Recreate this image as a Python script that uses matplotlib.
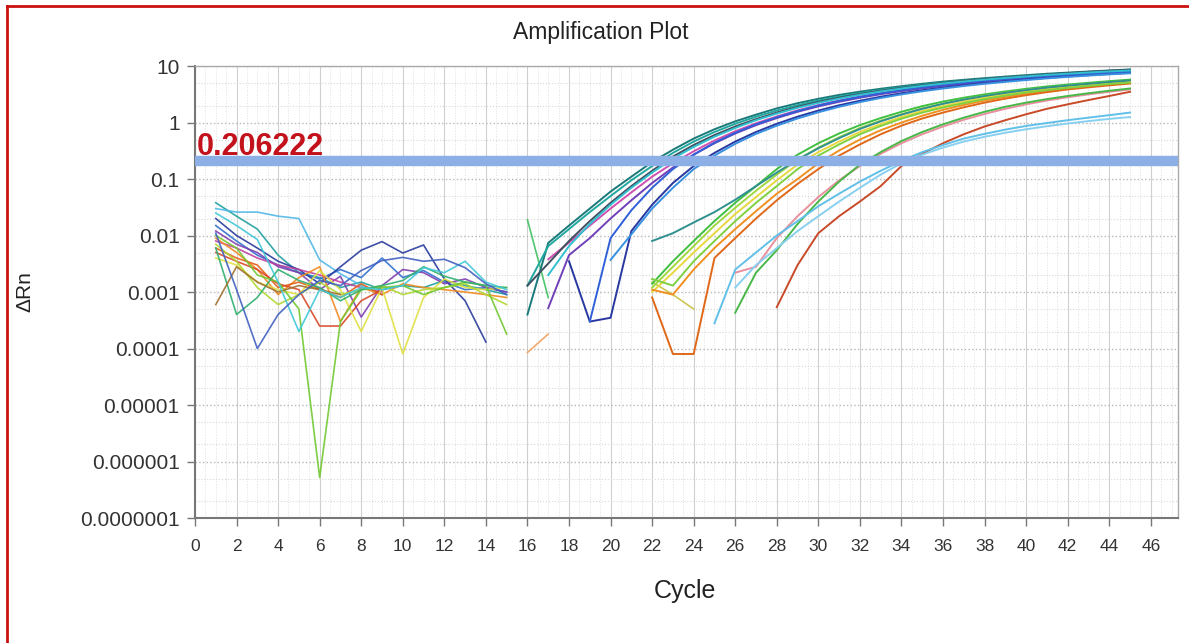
import numpy as np
import matplotlib
matplotlib.use('Agg')
import matplotlib.pyplot as plt
import matplotlib.ticker as mtick
from matplotlib.lines import Line2D

plt.rcParams['font.family'] = ['Liberation Sans', 'DejaVu Sans']

threshold = 0.206222
y_ticks = [1e1, 1e0, 1e-1, 1e-2, 1e-3, 1e-4, 1e-5, 1e-6, 1e-7]
y_tick_labels = ['10', '1', '0.1', '0.01', '0.001', '0.0001', '0.00001', '0.000001', '0.0000001']
x_ticks = list(range(0, 47, 2))

# baseline noise, cycles 1..n
base_values = [
    [0.038, 0.022, 0.013, 0.0045, 0.0022, 0.0018, 0.0012, 0.0015, 0.0011, 0.0013, 0.0012, 0.0016, 0.0013, 0.0011, 0.0009],
    [0.03, 0.026, 0.026, 0.022, 0.02, 0.0037, 0.0021, 0.0013, 0.0009],
    [0.015, 0.008, 0.0045, 0.003, 0.0022, 0.0017, 0.0025, 0.0018, 0.004, 0.0018, 0.0024, 0.0015, 0.0011, 0.0012, 0.001],
    [0.02, 0.01, 0.006, 0.0035, 0.0025, 0.0014, 0.0028, 0.0055, 0.0078, 0.0049, 0.0068, 0.0017, 0.0007, 0.00013],
    [0.012, 0.007, 0.005, 0.0028, 0.0022, 0.0011, 0.0019, 0.00036, 0.0013, 0.0025, 0.0022, 0.0014, 0.0017, 0.0012, 0.001],
    [0.008, 0.006, 0.004, 0.003, 0.0025, 0.002, 0.0015, 0.0012, 0.001],
    [0.009, 0.005, 0.0025, 0.0009, 0.0018, 0.0028, 0.0003, 0.0012, 0.0009, 0.0014, 0.0012, 0.0011, 0.001, 0.0009, 0.0008],
    [0.006, 0.004, 0.003, 0.0012, 0.0015, 0.0011, 0.0008, 0.0014, 0.0009],
    [0.005, 0.0035, 0.0025, 0.0014, 0.0011, 0.00025, 0.00025, 0.0007, 0.0011],
    [0.004, 0.003, 0.0015, 0.0011, 0.0009, 0.0024, 0.0011, 0.0002, 0.0012, 0.00008, 0.0008, 0.0017, 0.0012, 0.0011, 0.0012],
    [0.007, 0.0035, 0.0012, 0.0006, 0.0009, 0.0015, 0.0009, 0.0011, 0.0013, 0.0009, 0.0011, 0.0012, 0.0014, 0.0009, 0.0006],
    [0.01, 0.006, 0.002, 0.0015, 0.0005, 5.2e-7, 0.0003, 0.0011, 0.0012, 0.0013, 0.0009, 0.0012, 0.0015, 0.0013, 0.00018],
    [0.006, 0.0004, 0.0008, 0.0025, 0.0016, 0.0012, 0.0007, 0.0011, 0.0013, 0.0016, 0.0028, 0.0019, 0.0015, 0.0013, 0.0012],
    [0.0006, 0.0028, 0.0015, 0.001, 0.0013, 0.0011, 0.0009],
    [0.025, 0.015, 0.0085, 0.0015, 0.0002, 0.0011, 0.0008, 0.0012, 0.0011, 0.0013, 0.0027, 0.0022, 0.0035, 0.0015, 0.0011],
    [0.011, 0.0011, 0.0001, 0.0004, 0.0009, 0.0016, 0.0013, 0.0024, 0.0036, 0.0041, 0.0035, 0.0038, 0.0027, 0.0014, 0.0009],
]
base_colors = ['#20a0a0', '#50b8e8', '#3070d0', '#283c9c', '#8040b0', '#c040a0', '#f08a20', '#e06018',
               '#d84828', '#e0e040', '#b0d830', '#70c830', '#30b070', '#a07030', '#40c8d8', '#4060c0']

# short pieces around cycles 16-24
short_start = [16, 16, 22]
short_values = [
    [0.019, 0.0008],
    [8.5e-5, 1.8e-4],
    [0.0015, 0.0009, 0.0005],
]
short_colors = ['#40c060', '#f0a060', '#c8c040']

# amplification curves: first cycle + values up to cycle 45
amp_start = [16, 16, 17, 17, 18, 19, 20, 16, 17,
             22, 22, 22, 22, 22, 22, 22, 26, 26,
             28, 25, 26]
amp_values = [
    [0.0004, 0.0074, 0.015, 0.03, 0.06, 0.11, 0.2, 0.33, 0.52, 0.76, 1.05, 1.38, 1.78, 2.2, 2.63, 3.08, 3.52, 3.96, 4.4, 4.85, 5.3, 5.7, 6.1, 6.5, 6.9, 7.3, 7.65, 8.0, 8.35, 8.7],
    [0.0013, 0.0065, 0.013, 0.026, 0.05, 0.095, 0.17, 0.29, 0.46, 0.68, 0.95, 1.27, 1.63, 2.03, 2.45, 2.88, 3.32, 3.76, 4.2, 4.64, 5.08, 5.5, 5.9, 6.3, 6.7, 7.05, 7.4, 7.75, 8.1, 8.45],
    [0.0038, 0.0075, 0.015, 0.03, 0.058, 0.11, 0.19, 0.31, 0.48, 0.7, 0.97, 1.28, 1.64, 2.03, 2.45, 2.88, 3.3, 3.72, 4.15, 4.57, 4.98, 5.38, 5.76, 6.13, 6.5, 6.85, 7.2, 7.5, 7.8],
    [0.00052, 0.0045, 0.009, 0.02, 0.042, 0.085, 0.16, 0.27, 0.43, 0.64, 0.9, 1.2, 1.55, 1.93, 2.33, 2.75, 3.17, 3.6, 4.02, 4.45, 4.86, 5.27, 5.66, 6.05, 6.42, 6.78, 7.12, 7.45, 7.75],
    [0.0035, 0.0003, 0.00035, 0.012, 0.035, 0.085, 0.17, 0.29, 0.46, 0.68, 0.95, 1.27, 1.63, 2.02, 2.43, 2.86, 3.3, 3.73, 4.16, 4.58, 5.0, 5.4, 5.8, 6.18, 6.55, 6.9, 7.25, 7.58],
    [0.0003, 0.009, 0.028, 0.07, 0.15, 0.27, 0.44, 0.66, 0.93, 1.24, 1.6, 2.0, 2.42, 2.85, 3.3, 3.75, 4.2, 4.64, 5.08, 5.5, 5.9, 6.3, 6.7, 7.05, 7.4, 7.75, 8.1],
    [0.0037, 0.0105, 0.03, 0.07, 0.15, 0.26, 0.42, 0.63, 0.88, 1.18, 1.52, 1.9, 2.3, 2.72, 3.15, 3.58, 4.0, 4.43, 4.85, 5.25, 5.65, 6.05, 6.42, 6.78, 7.12, 7.45],
    [0.0013, 0.0032, 0.008, 0.018, 0.038, 0.075, 0.14, 0.25, 0.4, 0.6, 0.85, 1.15, 1.5, 1.9, 2.32, 2.76, 3.2, 3.65, 4.1, 4.55, 5.0, 5.45, 5.88, 6.3, 6.7, 7.1, 7.5, 7.88, 8.25, 8.6],
    [0.002, 0.0065, 0.016, 0.035, 0.07, 0.13, 0.23, 0.37, 0.56, 0.8, 1.1, 1.44, 1.82, 2.23, 2.66, 3.1, 3.55, 4.0, 4.45, 4.9, 5.33, 5.75, 6.15, 6.55, 6.95, 7.32, 7.68, 8.02, 8.35],
    [0.0014, 0.0035, 0.008, 0.018, 0.038, 0.075, 0.15, 0.27, 0.43, 0.64, 0.9, 1.2, 1.55, 1.95, 2.35, 2.75, 3.15, 3.55, 3.95, 4.35, 4.7, 5.05, 5.4, 5.75],
    [0.0012, 0.0028, 0.0065, 0.015, 0.031, 0.062, 0.12, 0.22, 0.36, 0.55, 0.8, 1.08, 1.4, 1.78, 2.15, 2.55, 2.95, 3.35, 3.75, 4.1, 4.45, 4.8, 5.15, 5.5],
    [0.001, 0.0022, 0.005, 0.011, 0.024, 0.048, 0.095, 0.18, 0.3, 0.46, 0.68, 0.94, 1.25, 1.6, 1.95, 2.35, 2.75, 3.15, 3.55, 3.9, 4.25, 4.6, 4.95, 5.3],
    [0.0011, 0.0009, 0.0025, 0.006, 0.013, 0.027, 0.055, 0.1, 0.19, 0.32, 0.5, 0.73, 1.0, 1.32, 1.68, 2.05, 2.45, 2.85, 3.25, 3.65, 4.0, 4.35, 4.7, 5.05],
    [0.0008, 8e-5, 8e-5, 0.004, 0.009, 0.02, 0.042, 0.082, 0.15, 0.26, 0.41, 0.62, 0.88, 1.18, 1.5, 1.86, 2.25, 2.65, 3.05, 3.45, 3.85, 4.2, 4.55, 4.9],
    [0.008, 0.011, 0.017, 0.026, 0.043, 0.075, 0.13, 0.22, 0.35, 0.53, 0.77, 1.05, 1.38, 1.75, 2.15, 2.55, 2.95, 3.35, 3.75, 4.15, 4.5, 4.85, 5.2, 5.55],
    [0.0017, 0.0013, 0.0035, 0.008, 0.018, 0.038, 0.075, 0.15, 0.26, 0.41, 0.62, 0.87, 1.17, 1.5, 1.85, 2.2, 2.6, 3.0, 3.4, 3.75, 4.1, 4.45, 4.8, 5.1],
    [0.0022, 0.0028, 0.009, 0.022, 0.048, 0.095, 0.17, 0.28, 0.43, 0.62, 0.85, 1.12, 1.42, 1.75, 2.1, 2.45, 2.8, 3.15, 3.5, 3.85],
    [0.00043, 0.0022, 0.0055, 0.016, 0.04, 0.09, 0.18, 0.3, 0.47, 0.68, 0.93, 1.22, 1.55, 1.9, 2.25, 2.6, 2.95, 3.3, 3.65, 4.0],
    [0.00054, 0.003, 0.011, 0.022, 0.04, 0.075, 0.17, 0.28, 0.43, 0.62, 0.85, 1.1, 1.4, 1.75, 2.1, 2.5, 2.95, 3.5],
    [0.00028, 0.0025, 0.005, 0.01, 0.018, 0.033, 0.055, 0.09, 0.14, 0.21, 0.3, 0.4, 0.52, 0.63, 0.75, 0.87, 0.98, 1.1, 1.22, 1.35, 1.5],
    [0.0012, 0.003, 0.006, 0.012, 0.022, 0.04, 0.07, 0.12, 0.19, 0.27, 0.36, 0.46, 0.56, 0.66, 0.76, 0.86, 0.96, 1.06, 1.16, 1.25],
]
amp_colors = ['#1a7a7a', '#20a8a0', '#d050b0', '#7040b8', '#2838a0', '#3060d8', '#3890e0', '#405060', '#30c0d0',
              '#40c040', '#a0d840', '#e8d840', '#f09020', '#e06818', '#309090', '#80d040', '#e890a0', '#48b848',
              '#c84a28', '#60c0e8', '#88d0f0']

fig = plt.figure(figsize=(11.89, 6.43), dpi=100)
ax = fig.add_axes([0.164, 0.1944, 0.8266, 0.7029])

for vals, c in zip(base_values, base_colors):
    ax.plot(np.arange(1, len(vals) + 1), vals, color=c, lw=1.2, alpha=0.9, zorder=2)
for s, vals, c in zip(short_start, short_values, short_colors):
    ax.plot(np.arange(s, s + len(vals)), vals, color=c, lw=1.2, alpha=0.9, zorder=2)
for s, vals, c in zip(amp_start, amp_values, amp_colors):
    ax.plot(np.arange(s, s + len(vals)), vals, color=c, lw=1.4, zorder=2)

ax.axhline(threshold, color='#8cb0e6', lw=7.5, zorder=3, solid_capstyle='butt')
ax.text(0.08, 0.262, '{:g}'.format(threshold), color='#c3121c', fontsize=22, fontweight='bold',
        va='baseline', ha='left', zorder=4)

ax.set_yscale('log')
ax.set_ylim(1e-7, 10)
ax.set_xlim(0, 47.3)
ax.set_yticks(y_ticks)
ax.set_yticklabels(y_tick_labels)
ax.yaxis.set_minor_locator(mtick.LogLocator(base=10, subs=(2.0, 5.0), numticks=20))
ax.yaxis.set_minor_formatter(mtick.NullFormatter())
ax.set_xticks(x_ticks)
ax.xaxis.set_minor_locator(mtick.MultipleLocator(0.5))

ax.tick_params(axis='both', which='major', direction='out', length=6, width=1, color='#777777',
               labelcolor='#333333')
ax.tick_params(axis='y', which='major', labelsize=15, pad=5)
ax.tick_params(axis='x', which='major', labelsize=12.5, pad=9)
ax.tick_params(axis='both', which='minor', length=0)
ax.grid(axis='x', which='major', color='#d0d0d0', lw=0.8, ls='-')
ax.grid(axis='x', which='minor', color='#e0e0e0', lw=0.7, ls=':')
ax.grid(axis='y', which='major', color='#b8b8b8', lw=1.0, ls=':')
ax.grid(axis='y', which='minor', color='#d8d8d8', lw=0.8, ls=':')
ax.set_axisbelow(True)

for side in ['left', 'bottom']:
    ax.spines[side].set_color('#777777')
    ax.spines[side].set_linewidth(1.5)
for side in ['top', 'right']:
    ax.spines[side].set_color('#aaaaaa')
    ax.spines[side].set_linewidth(1.0)

ax.set_xlabel('Cycle', fontsize=18, color='#222222')
ax.xaxis.set_label_coords(0.498, -0.135)
ax.set_ylabel('ΔRn', fontsize=15, color='#222222')
ax.yaxis.set_label_coords(-0.163, 0.5)
fig.text(0.505, 0.95, 'Amplification Plot', fontsize=16.5, color='#222222', ha='center', va='center')

# red frame round the picture (left and top edges visible)
fig.add_artist(Line2D([7 / 1189, 7 / 1189], [0, 1 - 6 / 643], color='#cc1111', lw=2, transform=fig.transFigure))
fig.add_artist(Line2D([7 / 1189, 1], [1 - 6 / 643, 1 - 6 / 643], color='#cc1111', lw=2, transform=fig.transFigure))

fig.savefig('out.png', dpi=100)
